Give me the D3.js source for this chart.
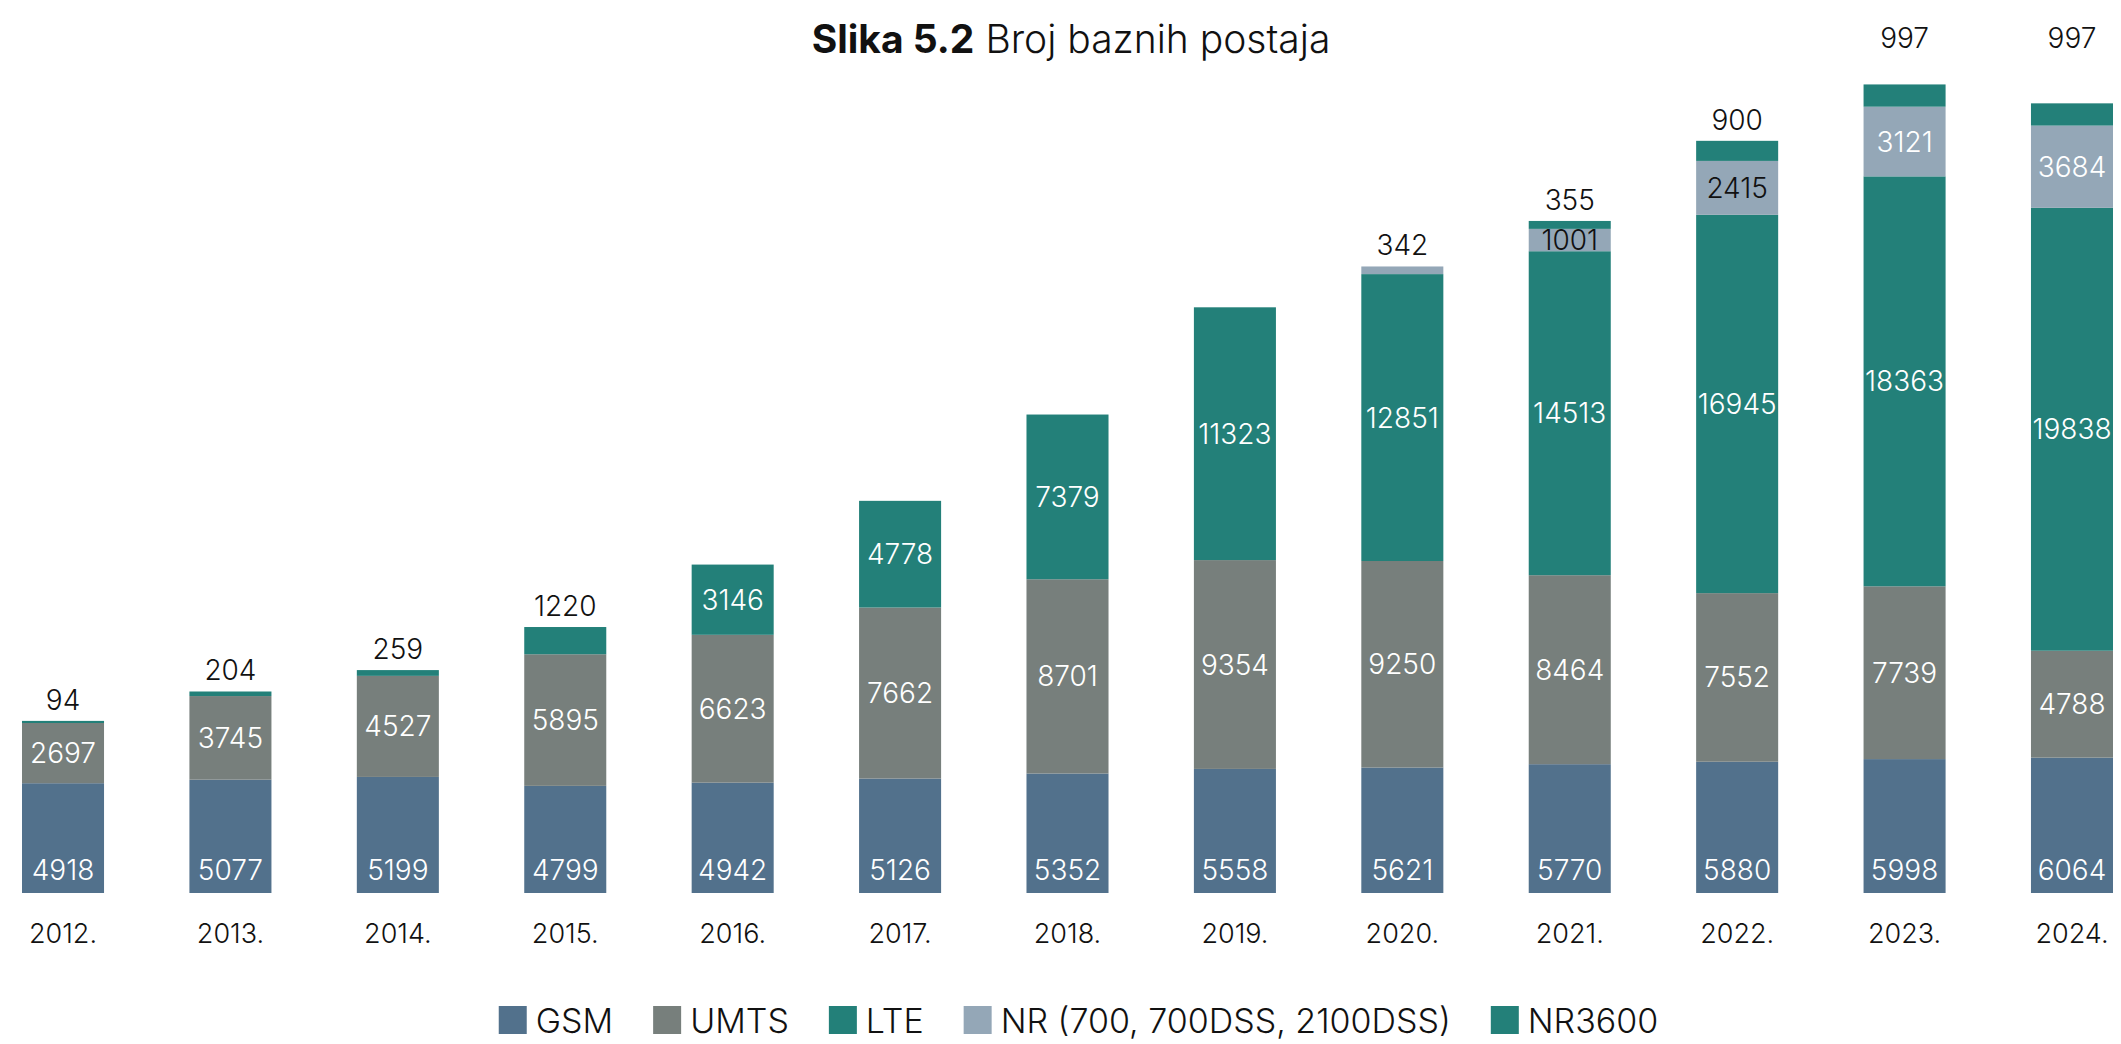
<!DOCTYPE html>
<html>
<head>
<meta charset="utf-8">
<script src="https://cdn.jsdelivr.net/npm/d3@7"></script>
<style>
  body { margin: 0; background: #fff; }
  svg { display: block; }
  text { font-family: Inter, "Open Sans", sans-serif; }
</style>
</head>
<body>
<svg id="chart" width="2121" height="1044"></svg>
<script>
// Broj baznih postaja po tehnologiji, 2012.–2024.
const years  = ["2012.", "2013.", "2014.", "2015.", "2016.", "2017.", "2018.", "2019.", "2020.", "2021.", "2022.", "2023.", "2024."];
const gsm    = [4918, 5077, 5199, 4799, 4942, 5126, 5352, 5558, 5621, 5770, 5880, 5998, 6064];
const umts   = [2697, 3745, 4527, 5895, 6623, 7662, 8701, 9354, 9250, 8464, 7552, 7739, 4788];
const lte    = [94, 204, 259, 1220, 3146, 4778, 7379, 11323, 12851, 14513, 16945, 18363, 19838];
const nr     = [0, 0, 0, 0, 0, 0, 0, 0, 342, 1001, 2415, 3121, 3684];
const nr3600 = [0, 0, 0, 0, 0, 0, 0, 0, 0, 355, 900, 997, 997];

const seriesKeys  = ["gsm", "umts", "lte", "nr", "nr3600"];
const seriesNames = ["GSM", "UMTS", "LTE", "NR (700, 700DSS, 2100DSS)", "NR3600"];
const seriesColors = ["#52718c", "#777f7c", "#238079", "#94a7b7", "#238079"];

// table built from the arrays above
const table = years.map((y, i) => ({
  year: y, gsm: gsm[i], umts: umts[i], lte: lte[i], nr: nr[i], nr3600: nr3600[i]
}));

const svg = d3.select("#chart");
const baseY = 893;

const x = d3.scaleBand().domain(years).range([22, 2113]).paddingInner(0.51).paddingOuter(0);
const y = d3.scaleLinear().domain([0, 40000]).range([baseY, 0]);
const color = d3.scaleOrdinal().domain(seriesKeys).range(seriesColors);

const layers = d3.stack().keys(seriesKeys)(table);

// title
const title = svg.append("text")
  .attr("x", 1071).attr("y", 38)
  .attr("text-anchor", "middle").attr("dominant-baseline", "central")
  .attr("font-size", 39).attr("fill", "#111");
title.append("tspan").attr("font-weight", 700).text("Slika 5.2");
title.append("tspan").attr("font-weight", 300).text(" Broj baznih postaja");

// bars
const g = svg.append("g");
layers.forEach(layer => {
  g.append("g").attr("fill", color(layer.key))
    .selectAll("rect").data(layer).join("rect")
    .attr("x", d => x(d.data.year))
    .attr("width", x.bandwidth())
    .attr("y", d => y(d[1]))
    .attr("height", d => y(d[0]) - y(d[1]));
});

// value labels
const darkInside = new Set(["nr|2021.", "nr|2022."]);
const labelSize = 28;
const titleRowY = 38;
const labels = svg.append("g").attr("font-size", labelSize).attr("font-weight", 300)
  .attr("text-anchor", "middle").attr("dominant-baseline", "central");

years.forEach((yr, i) => {
  // topmost non-empty segment of this bar
  let topKey = null;
  seriesKeys.forEach(k => { if (table[i][k] > 0) topKey = k; });
  layers.forEach(layer => {
    const d = layer[i];
    const v = d.data[layer.key];
    if (!v) return;
    const cx = x(yr) + x.bandwidth() / 2;
    let cy, fill;
    if (layer.key === topKey && v < 1500) {
      // short top segment: value goes above the bar
      cy = y(d[1]) - 21;
      if (cy < 100) cy = titleRowY;
      fill = "#111";
    } else if (layer.key === "gsm") {
      cy = baseY - 23;
      fill = "#fff";
    } else {
      cy = (y(d[0]) + y(d[1])) / 2;
      fill = darkInside.has(layer.key + "|" + yr) ? "#111" : "#fff";
    }
    labels.append("text").attr("x", cx).attr("y", cy).attr("fill", fill).text(v);
  });
});

// category axis
const axis = svg.append("g").attr("transform", `translate(0,${baseY})`)
  .call(d3.axisBottom(x).tickSize(0).tickPadding(0));
axis.select(".domain").remove();
axis.selectAll("text")
  .attr("y", 40).attr("dy", null)
  .attr("dominant-baseline", "central")
  .attr("font-size", 27).attr("font-weight", 300)
  .attr("font-family", "Inter, sans-serif")
  .attr("fill", "#111");

// legend
const legend = svg.append("g");
const sq = 28, gapText = 9, gapItem = 40, legY = 1020;
let cursor = 0;
seriesNames.forEach((name, i) => {
  const it = legend.append("g");
  it.append("rect").attr("x", 0).attr("y", -sq / 2).attr("width", sq).attr("height", sq)
    .attr("fill", seriesColors[i]);
  const t = it.append("text").attr("x", sq + gapText).attr("y", 0)
    .attr("dominant-baseline", "central").attr("font-size", 34).attr("font-weight", 300)
    .attr("fill", "#111").text(name);
  const w = sq + gapText + t.node().getComputedTextLength();
  it.attr("transform", `translate(${cursor},${legY})`);
  cursor += w + gapItem;
});
const total = cursor - gapItem;
legend.attr("transform", `translate(${1078.5 - total / 2},0)`);
</script>
</body>
</html>
